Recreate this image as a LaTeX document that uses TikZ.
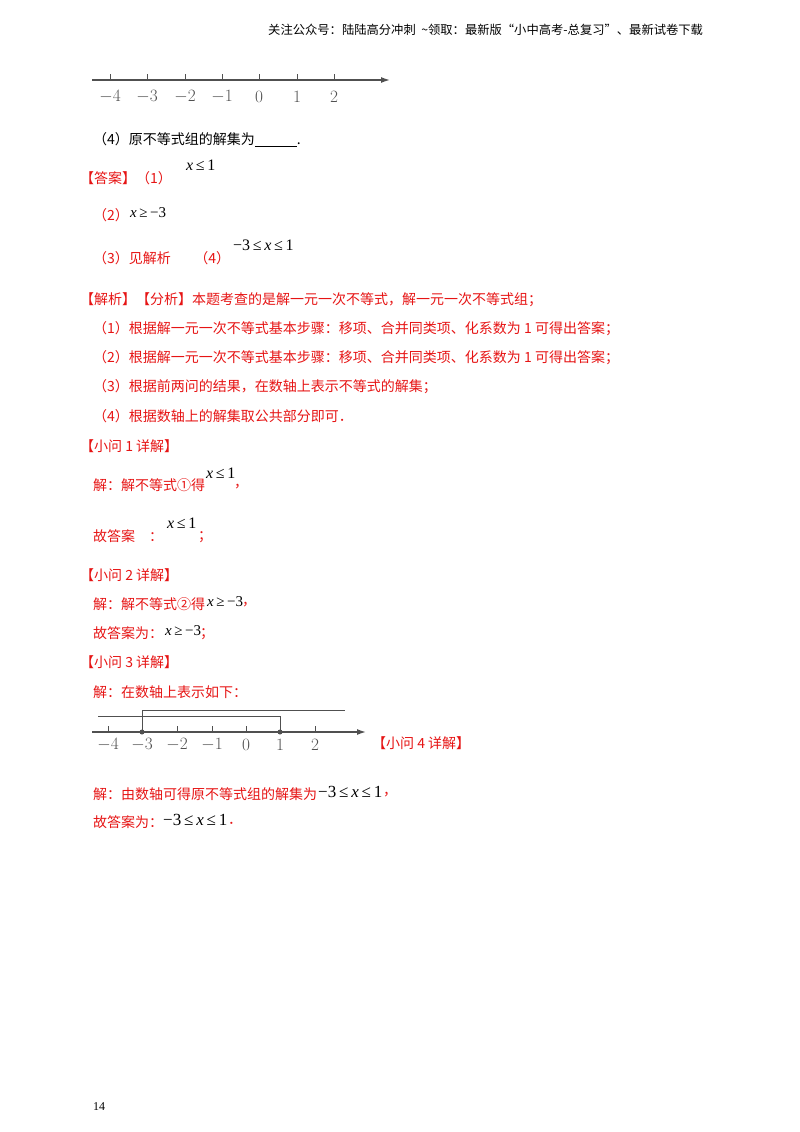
\documentclass[tikz,border=0pt]{standalone}
\usepackage{fontspec}
\usetikzlibrary{arrows.meta}
\newfontfamily\cjk{Noto Sans CJK SC}
\newfontfamily\tms{Liberation Serif}
\definecolor{ans}{RGB}{230,20,20}
\definecolor{ax}{RGB}{80,80,80}
\begin{document}
\begin{tikzpicture}[x=1pt,y=-1pt,
 t/.style={anchor=west,inner sep=0pt,font=\cjk\fontsize{14}{14}\selectfont},
 r/.style={t,text=ans},
 lab/.style={inner sep=0pt,text=ax,font=\tms\fontsize{17}{17}\selectfont},
 tk/.style={ax,line width=1pt},
 axis/.style={ax,line width=1.4pt,-{Latex[length=9pt,width=6pt]}}]
\useasboundingbox (0,0) rectangle (800,1132);
\node[t,font=\cjk\fontsize{12.3}{12}\selectfont] (hd) at (268,30) {关注公众号：陆陆高分冲刺\ \ \textasciitilde 领取：最新版“小中高考-总复习”、最新试卷下载};
% first number line
\coordinate (a0) at (92,80); \coordinate (a1) at (390,80);
\draw[axis] (a0) -- (a1);
\foreach \v/\x in {-4/110,-3/147,-2/185,-1/222,0/259,1/297,2/334}{
 \draw[tk] (\x,80) -- (\x,74);
 \node[lab] at (\x,97) {$\v$};}
\node[t] (q4) at (93,140) {（4）原不等式组的解集为\underline{\hspace{42pt}}.};
\node[r] (da) at (80,178) {【答案】（1）};
\node[t,font=\tms\fontsize{16}{16}\selectfont] (a1t) at (186,165) {\textit{x}\,≤\,1};
\node[r] (a2) at (93,215) {（2）};
\node[t,font=\tms\fontsize{15}{15}\selectfont] at (130,213) {\textit{x}\,≥\,−3};
\node[r] (a3) at (93,258) {（3）见解析\quad\ \ \ （4）};
\node[t,font=\tms\fontsize{16}{16}\selectfont] at (233,245) {−3\,≤\,\textit{x}\,≤\,1};
\node[r] at (80,300) {【解析】【分析】本题考查的是解一元一次不等式，解一元一次不等式组；};
\node[r] at (93,329) {（1）根据解一元一次不等式基本步骤：移项、合并同类项、化系数为 1 可得出答案；};
\node[r] at (93,358) {（2）根据解一元一次不等式基本步骤：移项、合并同类项、化系数为 1 可得出答案；};
\node[r] at (93,387) {（3）根据前两问的结果，在数轴上表示不等式的解集；};
\node[r] at (93,416) {（4）根据数轴上的解集取公共部分即可．};
\node[r] at (80,446) {【小问 1 详解】};
\node[r] at (93,485) {解：解不等式①得};
\node[t,font=\tms\fontsize{16}{16}\selectfont] at (206,473) {\textit{x}\,≤\,1};
\node[r] at (234,487) {，};
\node[r] at (93,536) {故答案\quad ：};
\node[t,font=\tms\fontsize{16}{16}\selectfont] at (167,523) {\textit{x}\,≤\,1};
\node[r] at (198,537) {；};
\node[r] at (80,575) {【小问 2 详解】};
\node[r] at (93,604) {解：解不等式②得};
\node[t,font=\tms\fontsize{15}{15}\selectfont] at (207,602) {\textit{x}\,≥\,−3};
\node[r] at (242,605) {，};
\node[r] at (93,633) {故答案为：};
\node[t,font=\tms\fontsize{15}{15}\selectfont] at (165,631) {\textit{x}\,≥\,−3};
\node[r] at (200,634) {；};
\node[r] at (80,662) {【小问 3 详解】};
\node[r] at (93,692) {解：在数轴上表示如下：};
% second number line
\draw[axis] (92,732) -- (366,732);
\foreach \v/\x in {-4/108,-3/142,-2/177,-1/212,0/246,1/280,2/315}{
 \draw[tk] (\x,732) -- (\x,726);
 \node[lab,font=\tms\fontsize{16}{16}\selectfont] at (\x,745) {$\v$};}
\draw[ax,line width=1pt] (142,732) -- (142,710) -- (345,710);
\draw[ax,line width=1pt] (98,716) -- (280,716) -- (280,732);
\fill[ax] (142,732) circle (2.5) (280,732) circle (2.5);
\node[r] at (372,743) {【小问 4 详解】};
\node[r] at (93,794) {解：由数轴可得原不等式组的解集为};
\node[t,font=\tms\fontsize{17}{17}\selectfont] at (318,792) {−3\,≤\,\textit{x}\,≤\,1};
\node[r] at (383,795) {，};
\node[r] at (93,822) {故答案为：};
\node[t,font=\tms\fontsize{17}{17}\selectfont] at (163,820) {−3\,≤\,\textit{x}\,≤\,1};
\node[r] at (228,823) {．};
\node[t,font=\tms\fontsize{12}{12}\selectfont] at (93,1107) {14};
\end{tikzpicture}
\end{document}
